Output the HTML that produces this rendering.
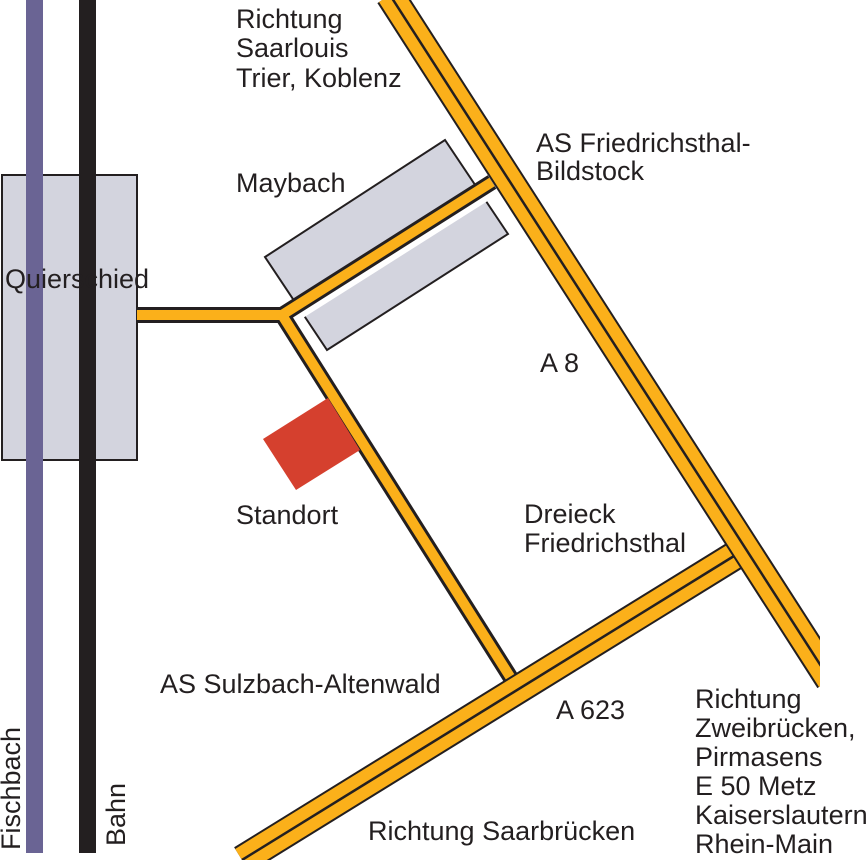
<!DOCTYPE html>
<html><head><meta charset="utf-8"><style>
html,body{margin:0;padding:0;background:#fff}
svg{display:block}
text{font-family:"Liberation Sans",Arial,sans-serif;font-size:27px;fill:#231f20}
</style></head><body>
<svg width="868" height="860" viewBox="0 0 868 860" xmlns="http://www.w3.org/2000/svg">
<defs><clipPath id="c"><rect x="0" y="0" width="820" height="860"/></clipPath></defs>
<rect x="2" y="175" width="135" height="285" fill="#d3d4de" stroke="#231f20" stroke-width="2"/>
<polygon points="265,257 445,140 508,234 327,350" fill="#d3d4de" stroke="#231f20" stroke-width="2"/>
<line x1="282" y1="320" x2="500" y2="182" stroke="#fff" stroke-width="19"/>
<g fill="none" stroke-linejoin="miter">
<polyline points="137,315 282,315 492,182" stroke="#231f20" stroke-width="16"/>
<polyline points="282,315 514,683" stroke="#231f20" stroke-width="16"/>
<polyline points="137,315 282,315 492,182" stroke="#fbb01a" stroke-width="10"/>
<polyline points="282,315 514,683" stroke="#fbb01a" stroke-width="10"/>
</g>
<polygon points="263,439 328,398 360,450 296,490" fill="#d5402e"/>
<g clip-path="url(#c)">
<line x1="242" y1="860" x2="734" y2="556" stroke="#231f20" stroke-width="30"/>
<line x1="242" y1="860" x2="734" y2="556" stroke="#fbb01a" stroke-width="26"/>
<line x1="242" y1="860" x2="734" y2="556" stroke="#231f20" stroke-width="2.5"/>
<line x1="390" y1="-5" x2="830" y2="680" stroke="#231f20" stroke-width="30"/>
<line x1="390" y1="-5" x2="830" y2="680" stroke="#fbb01a" stroke-width="26"/>
<line x1="390" y1="-5" x2="830" y2="680" stroke="#231f20" stroke-width="2.5"/>
</g>
<rect x="26" y="0" width="17" height="853" fill="#6a6494"/>
<rect x="79" y="0" width="17" height="853" fill="#231f20"/>
<text x="5" y="288">Quierschied</text>
<text x="236" y="28">Richtung</text>
<text x="236" y="57">Saarlouis</text>
<text x="236" y="87">Trier, Koblenz</text>
<text x="236" y="192">Maybach</text>
<text x="536" y="152">AS Friedrichsthal-</text>
<text x="536" y="180">Bildstock</text>
<text x="540" y="372">A 8</text>
<text x="236" y="524">Standort</text>
<text x="524" y="523">Dreieck</text>
<text x="524" y="552">Friedrichsthal</text>
<text x="160" y="693">AS Sulzbach-Altenwald</text>
<text x="556" y="719">A 623</text>
<text x="695" y="708">Richtung</text>
<text x="695" y="737">Zweibrücken,</text>
<text x="695" y="766">Pirmasens</text>
<text x="695" y="795">E 50 Metz</text>
<text x="695" y="824">Kaiserslautern</text>
<text x="695" y="853">Rhein-Main</text>
<text x="368" y="840">Richtung Saarbrücken</text>
<text transform="translate(20,850) rotate(-90)">Fischbach</text>
<text transform="translate(125,846) rotate(-90)">Bahn</text>
</svg>
</body></html>
